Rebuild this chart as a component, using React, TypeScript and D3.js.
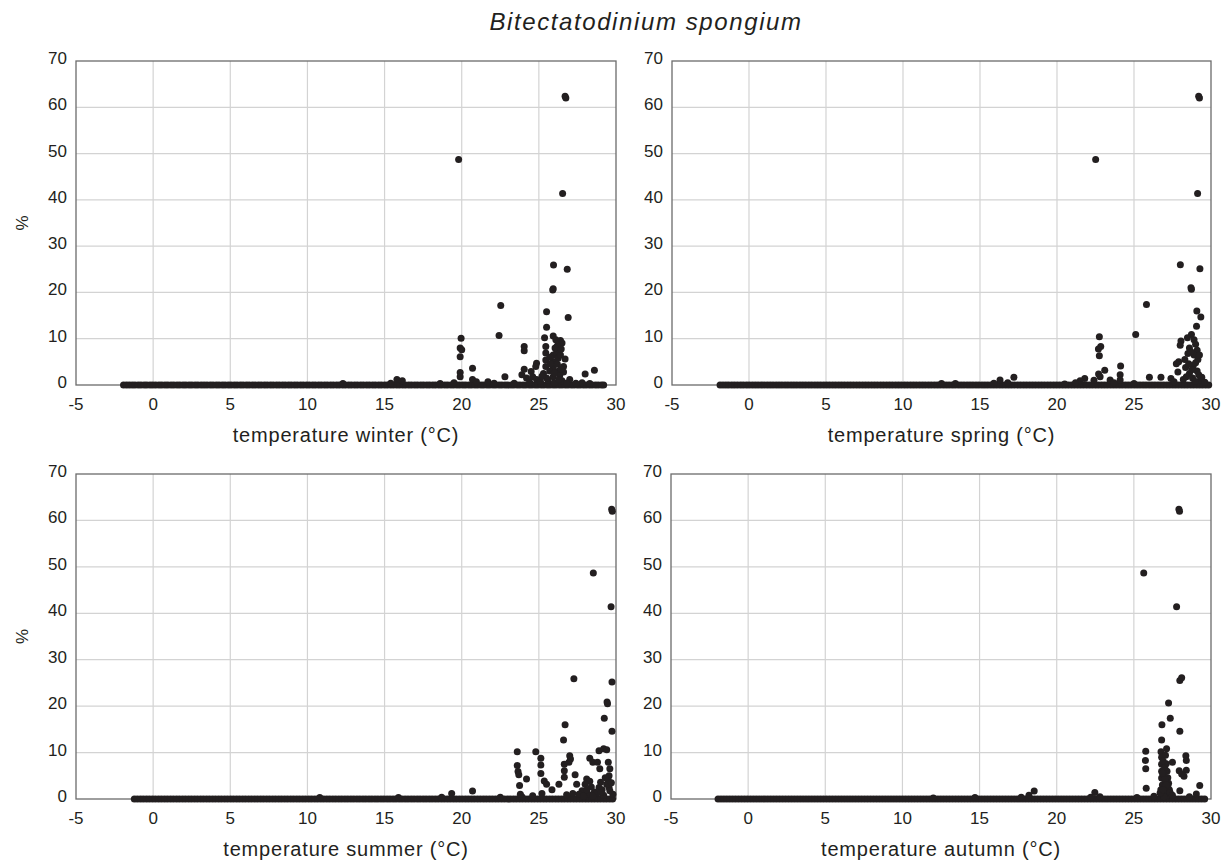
import React from "react";
import * as d3 from "d3";

// ---------- DATA ----------
const xTicks = [-5, 0, 5, 10, 15, 20, 25, 30];
const yTicks = [0, 10, 20, 30, 40, 50, 60, 70];
const seasonLabels = ["temperature winter (°C)", "temperature spring (°C)", "temperature summer (°C)", "temperature autumn (°C)"];
const chartTitle = "Bitectatodinium spongium";

// samples with zero abundance: temperatures only
const winterZero = [-1.92,-1.73,-1.55,-1.36,-1.18,-0.97,-0.79,-0.58,-0.41,-0.2,-0.02,0.17,0.38,0.56,0.77,0.95,1.16,1.34,1.55,1.73,1.94,2.12,2.33,2.51,2.72,2.9,3.11,3.3,3.49,3.7,3.88,4.09,4.27,4.48,4.66,4.87,5.05,5.26,5.44,5.65,5.83,6.04,6.22,6.43,6.61,6.82,7.0,7.21,7.39,7.6,7.78,7.99,8.17,8.38,8.56,8.77,8.95,9.16,9.34,9.55,9.73,9.94,10.12,10.33,10.51,10.72,10.9,11.11,11.29,11.5,11.68,11.89,12.07,12.28,12.46,12.67,12.85,13.06,13.24,13.45,13.63,13.84,14.02,14.23,14.41,14.62,14.8,15.01,15.19,15.4,15.58,15.79,15.97,16.18,16.36,16.57,16.75,16.96,17.14,17.35,17.53,17.74,17.92,18.13,18.31,18.52,18.7,18.91,19.09,19.3,19.48,19.69,19.87,20.08,20.26,20.47,20.65,20.86,21.04,21.25,21.43,21.64,21.82,22.03,22.21,22.42,22.6,22.81,22.99,23.2,23.38,23.59,23.77,23.98,24.16,24.37,24.55,24.76,24.94,25.15,25.33,25.54,25.72,25.93,26.11,26.32,26.5,26.71,26.89,27.1,27.28,27.49,27.67,27.88,28.06,28.27,28.45,28.66,28.84,29.05,29.2];
const springZero = [-1.88,-1.69,-1.5,-1.32,-1.12,-0.94,-0.75,-0.55,-0.37,-0.17,0.01,0.21,0.4,0.59,0.79,0.98,1.18,1.37,1.56,1.76,1.95,2.14,2.34,2.53,2.73,2.92,3.11,3.31,3.5,3.69,3.89,4.08,4.28,4.47,4.66,4.86,5.05,5.24,5.44,5.63,5.83,6.02,6.21,6.41,6.6,6.79,6.99,7.18,7.38,7.57,7.76,7.96,8.15,8.34,8.54,8.73,8.93,9.12,9.31,9.51,9.7,9.89,10.09,10.28,10.48,10.67,10.86,11.06,11.25,11.44,11.64,11.83,12.03,12.22,12.41,12.61,12.8,12.99,13.19,13.38,13.58,13.77,13.96,14.16,14.35,14.54,14.74,14.93,15.13,15.32,15.51,15.71,15.9,16.09,16.29,16.48,16.68,16.87,17.06,17.26,17.45,17.64,17.84,18.03,18.23,18.42,18.61,18.81,19.0,19.19,19.39,19.58,19.78,19.97,20.16,20.36,20.55,20.74,20.94,21.13,21.33,21.52,21.71,21.91,22.1,22.29,22.49,22.68,22.88,23.07,23.26,23.46,23.65,23.84,24.04,24.23,24.43,24.62,24.81,25.01,25.2,25.39,25.59,25.78,25.98,26.17,26.36,26.56,26.75,26.94,27.14,27.33,27.53,27.72,27.91,28.11,28.3,28.49,28.69,28.88,29.08,29.27,29.46,29.66,29.85];
const summerZero = [-1.22,-1.03,-0.83,-0.64,-0.44,-0.25,-0.05,0.14,0.34,0.53,0.73,0.92,1.12,1.31,1.51,1.7,1.9,2.09,2.29,2.48,2.68,2.87,3.07,3.26,3.46,3.65,3.85,4.04,4.24,4.43,4.63,4.82,5.02,5.21,5.41,5.6,5.8,5.99,6.19,6.38,6.58,6.77,6.97,7.16,7.36,7.55,7.75,7.94,8.14,8.33,8.53,8.72,8.92,9.11,9.31,9.5,9.7,9.89,10.09,10.28,10.48,10.67,10.87,11.06,11.26,11.45,11.65,11.84,12.04,12.23,12.43,12.62,12.82,13.01,13.21,13.4,13.6,13.79,13.99,14.18,14.38,14.57,14.77,14.96,15.16,15.35,15.55,15.74,15.94,16.13,16.33,16.52,16.72,16.91,17.11,17.3,17.5,17.69,17.89,18.08,18.28,18.47,18.67,18.86,19.06,19.25,19.45,19.64,19.84,20.03,20.23,20.42,20.62,20.81,21.01,21.2,21.4,21.59,21.79,21.98,22.18,22.37,22.57,22.76,22.96,23.15,23.35,23.54,23.74,23.93,24.13,24.32,24.52,24.71,24.91,25.1,25.3,25.49,25.69,25.88,26.08,26.27,26.47,26.66,26.86,27.05,27.25,27.44,27.64,27.83,28.03,28.22,28.42,28.61,28.81,29.0,29.2,29.39,29.59,29.78];
const autumnZero = [-1.95,-1.76,-1.57,-1.38,-1.19,-1.0,-0.81,-0.62,-0.43,-0.24,-0.05,0.14,0.33,0.52,0.71,0.9,1.09,1.28,1.47,1.66,1.85,2.04,2.23,2.42,2.61,2.8,2.99,3.18,3.37,3.56,3.75,3.94,4.13,4.32,4.51,4.7,4.89,5.08,5.27,5.46,5.65,5.84,6.03,6.22,6.41,6.6,6.79,6.98,7.17,7.36,7.55,7.74,7.93,8.12,8.31,8.5,8.69,8.88,9.07,9.26,9.45,9.64,9.83,10.02,10.21,10.4,10.59,10.78,10.97,11.16,11.35,11.54,11.73,11.92,12.11,12.3,12.49,12.68,12.87,13.06,13.25,13.44,13.63,13.82,14.01,14.2,14.39,14.58,14.77,14.96,15.15,15.34,15.53,15.72,15.91,16.1,16.29,16.48,16.67,16.86,17.05,17.24,17.43,17.62,17.81,18.0,18.19,18.38,18.57,18.76,18.95,19.14,19.33,19.52,19.71,19.9,20.09,20.28,20.47,20.66,20.85,21.04,21.23,21.42,21.61,21.8,21.99,22.18,22.37,22.56,22.75,22.94,23.13,23.32,23.51,23.7,23.89,24.08,24.27,24.46,24.65,24.84,25.03,25.22,25.41,25.6,25.79,25.98,26.17,26.36,26.55,26.74,26.93,27.12,27.31,27.5,27.69,27.88,28.07,28.26,28.45,28.64,28.83,29.02,29.21,29.4,29.59];

// samples with abundance: [temperature, %]
const winterPts: [number, number][] = [[26.7,62.4],[26.75,62.0],[19.8,48.7],[26.54,41.4],[25.95,25.9],[26.84,25.0],[25.93,20.8],[25.9,20.5],[22.53,17.2],[25.5,15.8],[26.9,14.6],[25.5,12.5],[22.42,10.7],[19.96,10.1],[25.93,10.6],[25.37,10.2],[26.4,9.6],[26.5,9.1],[19.9,8.0],[20.0,7.6],[19.9,6.1],[24.05,8.3],[24.05,7.4],[25.45,8.3],[25.45,6.9],[25.45,5.4],[25.45,4.0],[25.93,6.5],[25.93,5.1],[25.93,3.6],[25.93,1.8],[26.2,8.5],[26.15,7.0],[26.25,5.8],[26.2,4.5],[26.3,3.0],[26.35,2.0],[26.1,9.8],[26.05,8.0],[26.4,6.5],[26.45,7.8],[26.7,5.6],[26.6,4.0],[24.85,4.7],[24.8,4.0],[20.7,3.6],[24.05,3.4],[24.5,2.9],[23.9,2.2],[24.2,1.5],[19.9,2.7],[19.9,1.8],[22.8,1.8],[24.85,1.2],[28.0,2.4],[28.6,3.2],[27.0,1.2],[20.7,1.2],[20.95,0.7],[21.7,0.7],[15.8,1.2],[16.15,0.9],[26.5,0.9],[27.8,0.5],[25.1,0.8],[25.6,1.0],[24.4,0.6],[23.4,0.4],[22.1,0.4],[19.5,0.5],[18.6,0.3],[15.4,0.4],[12.3,0.3],[26.8,0.4],[27.4,0.4],[28.3,0.3],[26.0,0.5],[25.3,2.5],[24.6,1.8],[25.7,3.0],[26.3,1.2],[26.0,2.6],[25.5,1.5],[26.6,2.8],[25.2,1.9],[26.45,3.5],[25.7,6.0],[25.75,4.6]];
const springPts: [number, number][] = [[29.2,62.4],[29.25,62.0],[22.51,48.7],[29.13,41.4],[28.01,26.0],[29.28,25.1],[28.7,21.0],[28.73,20.7],[25.81,17.4],[29.08,16.0],[29.34,14.7],[29.06,12.7],[25.11,10.9],[22.75,10.4],[28.73,10.9],[28.47,10.2],[28.05,9.5],[28.0,8.6],[22.84,8.3],[22.69,7.8],[22.75,6.3],[28.9,9.8],[29.0,8.8],[29.1,7.5],[28.9,6.5],[29.15,5.5],[28.85,4.2],[29.1,3.0],[28.6,8.0],[28.5,6.8],[28.3,5.5],[28.35,3.8],[28.6,2.5],[27.9,5.0],[27.75,4.6],[27.85,2.8],[28.8,1.5],[29.3,1.0],[24.13,4.1],[23.1,3.2],[22.7,2.4],[22.8,1.8],[24.1,2.2],[24.1,1.1],[26.0,1.7],[26.75,1.7],[29.4,1.7],[27.4,1.4],[17.2,1.7],[16.3,1.1],[21.8,1.4],[21.5,0.9],[23.45,1.1],[22.4,1.0],[23.7,0.5],[21.2,0.5],[15.9,0.4],[16.8,0.5],[12.5,0.3],[13.4,0.3],[27.6,0.7],[28.2,1.2],[29.6,0.6],[25.0,0.3],[20.5,0.2],[28.7,7.2],[29.0,4.8],[28.75,3.3],[29.2,2.2],[28.4,1.8],[28.95,0.8],[28.55,4.6],[29.25,6.5]];
const summerPts: [number, number][] = [[29.72,62.4],[29.76,62.0],[28.53,48.7],[29.68,41.4],[27.27,25.9],[29.74,25.2],[29.42,20.9],[29.45,20.5],[29.24,17.4],[29.74,14.6],[26.7,16.0],[26.6,12.7],[23.6,10.2],[24.8,10.2],[28.9,10.4],[29.2,10.8],[29.4,10.6],[25.13,8.8],[25.13,7.3],[25.13,5.5],[23.6,7.2],[23.65,5.9],[23.7,5.2],[24.2,4.3],[23.75,2.9],[27.0,9.3],[27.05,8.6],[26.95,7.9],[26.65,7.5],[26.65,6.1],[26.65,4.7],[28.3,8.8],[28.5,7.9],[28.95,6.5],[28.8,7.9],[27.35,5.2],[27.45,3.2],[29.5,7.9],[29.6,6.5],[29.55,5.0],[29.5,4.0],[29.55,2.5],[25.35,3.9],[25.5,3.2],[25.85,2.0],[26.3,3.2],[20.7,1.7],[19.35,1.2],[28.1,4.3],[28.3,3.8],[28.0,3.2],[28.9,2.5],[29.1,2.0],[28.6,1.5],[27.8,1.8],[27.2,1.2],[26.8,0.9],[24.6,0.7],[23.9,0.5],[22.5,0.4],[18.7,0.4],[15.9,0.3],[10.8,0.3],[29.8,1.0],[29.2,0.8],[28.4,2.6],[27.6,1.0],[29.4,3.2],[28.75,1.2],[28.2,1.0],[28.5,0.6],[29.0,1.4],[29.6,1.8],[29.3,4.6],[28.1,2.0],[27.9,0.6],[29.7,3.5],[29.0,3.6],[25.2,1.2],[23.8,1.0]];
const autumnPts: [number, number][] = [[27.92,62.4],[27.96,62.0],[25.64,48.7],[27.77,41.4],[27.98,25.5],[28.1,26.1],[27.25,20.7],[27.36,17.4],[26.82,16.0],[27.98,14.6],[26.8,12.7],[25.77,10.3],[26.76,10.2],[27.12,10.8],[25.75,8.3],[25.77,6.5],[26.8,9.0],[26.8,7.5],[26.8,6.0],[26.8,4.5],[26.85,3.0],[27.5,7.9],[28.37,9.3],[28.4,8.3],[28.4,6.2],[27.94,6.1],[28.1,5.4],[28.25,4.9],[27.05,9.4],[27.1,7.6],[27.15,6.0],[27.2,4.6],[27.25,3.4],[27.0,2.5],[26.95,5.2],[27.3,2.0],[27.1,1.2],[26.9,1.0],[29.27,2.9],[25.8,2.3],[27.98,1.8],[18.54,1.7],[22.47,1.4],[29.05,1.1],[18.2,0.8],[17.7,0.4],[22.8,0.5],[22.2,0.4],[26.3,0.6],[28.6,0.5],[25.2,0.3],[14.7,0.3],[12.0,0.2],[26.9,8.2],[27.0,6.8],[26.85,5.6],[27.05,3.8],[26.75,2.0],[27.2,2.8],[27.35,1.4],[26.95,0.5],[27.5,0.8],[26.7,1.3],[27.0,4.2],[27.1,3.0],[26.9,2.0]];

// ---------- LAYOUT ----------
const W = 1228, H = 864;
const panels = [
  { left: 76, right: 616, top: 61, bottom: 385, zero: winterZero, pts: winterPts, label: seasonLabels[0], yTitle: true },
  { left: 672, right: 1211, top: 61, bottom: 385, zero: springZero, pts: springPts, label: seasonLabels[1], yTitle: false },
  { left: 76, right: 616, top: 474, bottom: 799, zero: summerZero, pts: summerPts, label: seasonLabels[2], yTitle: true },
  { left: 671, right: 1211, top: 474, bottom: 799, zero: autumnZero, pts: autumnPts, label: seasonLabels[3], yTitle: false },
];

const ink = "#231f20";
const font = "'Liberation Sans', Arial, Helvetica, sans-serif";

function Panel({ p }: { p: typeof panels[number] }) {
  const x = d3.scaleLinear().domain([-5, 30]).range([p.left, p.right]);
  const y = d3.scaleLinear().domain([0, 70]).range([p.bottom, p.top]);
  const pts: [number, number][] = [...p.zero.map((t) => [t, 0] as [number, number]), ...p.pts];
  return (
    <g>
      {xTicks.slice(1, -1).map((t) => (
        <line key={"gx" + t} x1={x(t)} x2={x(t)} y1={p.top} y2={p.bottom} stroke="#d3d3d3" strokeWidth={1.2} />
      ))}
      {yTicks.slice(1, -1).map((t) => (
        <line key={"gy" + t} x1={p.left} x2={p.right} y1={y(t)} y2={y(t)} stroke="#d3d3d3" strokeWidth={1.2} />
      ))}
      <rect x={p.left} y={p.top} width={p.right - p.left} height={p.bottom - p.top} fill="none" stroke="#6b6b6b" strokeWidth={1.3} />
      {pts.map((d, i) => (
        <circle key={i} cx={x(d[0])} cy={y(d[1])} r={3.5} fill={ink} />
      ))}
      {xTicks.map((t) => (
        <text key={"tx" + t} x={x(t)} y={p.bottom + 25} textAnchor="middle" fontSize={17} fill={ink} fontFamily={font}>{t}</text>
      ))}
      {yTicks.map((t) => (
        <text key={"ty" + t} x={p.left - 9} y={y(t) + 3} textAnchor="end" fontSize={17} fill={ink} fontFamily={font}>{t}</text>
      ))}
      <text x={(p.left + p.right) / 2} y={p.bottom + 57} textAnchor="middle" fontSize={20} letterSpacing={0.8} fill={ink} fontFamily={font}>{p.label}</text>
      {p.yTitle && (
        <text transform={`translate(28,${(p.top + p.bottom) / 2}) rotate(-90)`} textAnchor="middle" fontSize={17} fill={ink} fontFamily={font}>%</text>
      )}
    </g>
  );
}

export default function App() {
  return (
    <svg width={W} height={H} style={{ position: "absolute", left: 0, top: 0, background: "#fff" }}>
      <rect width={W} height={H} fill="#fff" />
      <text x={646} y={30} textAnchor="middle" fontSize={24} letterSpacing={1.6} fontStyle="italic" fill={ink} fontFamily={font}>{chartTitle}</text>
      {panels.map((p, i) => <Panel key={i} p={p} />)}
    </svg>
  );
}
